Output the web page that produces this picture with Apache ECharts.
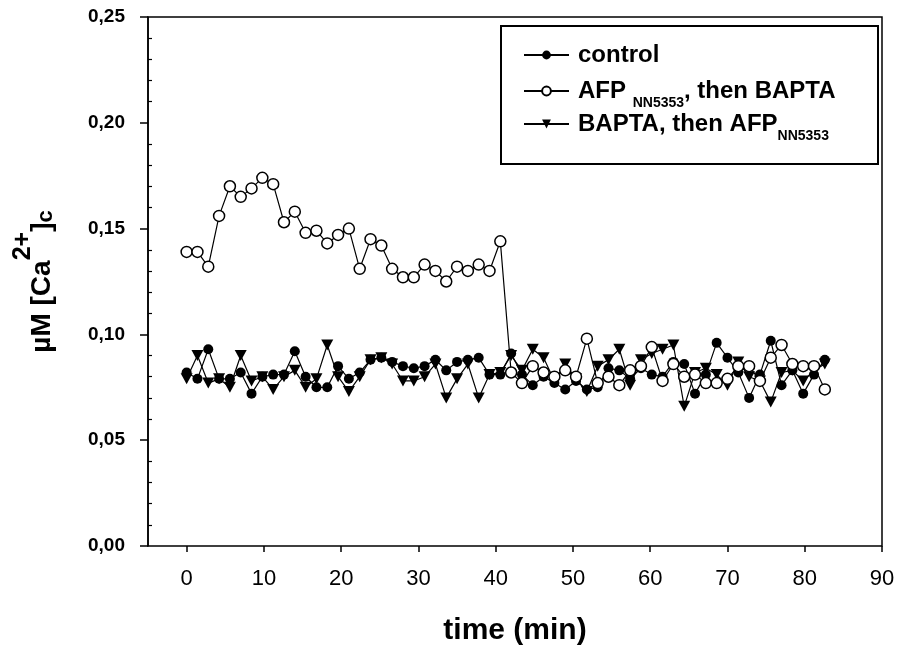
<!DOCTYPE html>
<html>
<head>
<meta charset="utf-8">
<script src="https://cdn.jsdelivr.net/npm/echarts@6/dist/echarts.min.js"></script>
<style>
html,body{margin:0;padding:0;background:#fff;}
#chart{width:907px;height:651px;}
</style>
</head>
<body>
<div id="chart"></div>
<script>
// ---- data ----
var times = [0, 1.4, 2.8, 4.2, 5.6, 7, 8.4, 9.8, 11.2, 12.6, 14, 15.4, 16.8, 18.2, 19.6, 21, 22.4, 23.8, 25.2, 26.6,
  28, 29.4, 30.8, 32.2, 33.6, 35, 36.4, 37.8, 39.2, 40.6, 42, 43.4, 44.8, 46.2, 47.6, 49, 50.4, 51.8, 53.2, 54.6,
  56, 57.4, 58.8, 60.2, 61.6, 63, 64.4, 65.8, 67.2, 68.6, 70, 71.4, 72.8, 74.2, 75.6, 77, 78.4, 79.8, 81.2, 82.6];

var control = [0.082, 0.079, 0.093, 0.079, 0.079, 0.082, 0.072, 0.080, 0.081, 0.081,
  0.092, 0.080, 0.075, 0.075, 0.085, 0.079, 0.082, 0.088, 0.089, 0.087,
  0.085, 0.084, 0.085, 0.088, 0.083, 0.087, 0.088, 0.089, 0.081, 0.081,
  0.091, 0.081, 0.076, 0.080, 0.077, 0.074, 0.078, 0.074, 0.075, 0.084,
  0.083, 0.079, 0.084, 0.081, 0.080, 0.087, 0.086, 0.072, 0.081, 0.096,
  0.089, 0.082, 0.070, 0.081, 0.097, 0.076, 0.083, 0.072, 0.081, 0.088];

var afpThenBapta = [0.139, 0.139, 0.132, 0.156, 0.170, 0.165, 0.169, 0.174, 0.171, 0.153,
  0.158, 0.148, 0.149, 0.143, 0.147, 0.150, 0.131, 0.145, 0.142, 0.131,
  0.127, 0.127, 0.133, 0.130, 0.125, 0.132, 0.130, 0.133, 0.130, 0.144,
  0.082, 0.077, 0.085, 0.082, 0.080, 0.083, 0.080, 0.098, 0.077, 0.080,
  0.076, 0.083, 0.085, 0.094, 0.078, 0.086, 0.080, 0.081, 0.077, 0.077,
  0.079, 0.085, 0.085, 0.078, 0.089, 0.095, 0.086, 0.085, 0.085, 0.074];

var baptaThenAfp = [0.079, 0.090, 0.077, 0.079, 0.075, 0.090, 0.078, 0.080, 0.074, 0.080,
  0.083, 0.075, 0.079, 0.095, 0.080, 0.073, 0.080, 0.088, 0.089, 0.086,
  0.078, 0.078, 0.080, 0.086, 0.070, 0.079, 0.086, 0.070, 0.081, 0.082,
  0.090, 0.083, 0.093, 0.089, 0.078, 0.086, 0.079, 0.073, 0.085, 0.088,
  0.093, 0.076, 0.088, 0.091, 0.093, 0.095, 0.066, 0.082, 0.084, 0.081,
  0.076, 0.087, 0.080, 0.078, 0.068, 0.082, 0.083, 0.078, 0.083, 0.086];

var xTicks = [0, 10, 20, 30, 40, 50, 60, 70, 80, 90];
var yTicks = [0, 0.05, 0.10, 0.15, 0.20, 0.25];
var seriesNames = ['control', 'AFP NN5353, then BAPTA', 'BAPTA, then AFP NN5353'];

// ---- chart ----
function pairs(xs, ys) { return ys.map(function (v, i) { return [xs[i], v]; }); }

var FONT = "'Liberation Sans', Arial, sans-serif";

var legendRich = {
  a: { fontSize: 24, fontWeight: 'bold', fontFamily: FONT, color: '#000' },
  s: { fontSize: 14, fontWeight: 'bold', fontFamily: FONT, color: '#000', padding: [24, 0, 0, 0] }
};
var legendText = {};
legendText[seriesNames[0]] = '{a|control}';
legendText[seriesNames[1]] = '{a|AFP }{s|NN5353}{a|, then BAPTA}';
legendText[seriesNames[2]] = '{a|BAPTA, then AFP}{s|NN5353}';

function legendFor(idx, top) {
  return {
    orient: 'vertical', left: 523, top: top, padding: 0,
    itemWidth: 45, itemHeight: 11,
    data: [seriesNames[idx]],
    formatter: function (n) { return legendText[n]; },
    textStyle: { rich: legendRich, padding: [0, 0, 0, 4] }
  };
}

var chart = echarts.init(document.getElementById('chart'), null, { renderer: 'canvas' });
var option = {
  animation: false,
  backgroundColor: '#fff',
  grid: { left: 148, right: 25, top: 17, bottom: 104, show: true, borderColor: '#000', borderWidth: 1.5, backgroundColor: 'transparent' },
  graphic: [{
    type: 'rect', left: 500, top: 25, z: 0,
    shape: { width: 377, height: 138 },
    style: { fill: '#fff', stroke: '#000', lineWidth: 2 }
  }],
  legend: [legendFor(0, 43), legendFor(1, 79), legendFor(2, 112)],
  xAxis: {
    type: 'value', min: -5, max: 90, offset: 2,
    axisLine: { show: false },
    axisTick: { show: true, length: 6, customValues: xTicks, lineStyle: { color: '#000', width: 1.5 } },
    axisLabel: { customValues: xTicks, margin: 20, fontSize: 22, fontFamily: FONT, color: '#000' },
    splitLine: { show: false },
    name: 'time (min)', nameLocation: 'middle', nameGap: 68,
    nameTextStyle: { fontSize: 30, fontWeight: 'bold', fontFamily: FONT, color: '#000' }
  },
  yAxis: [{
    type: 'value', min: 0, max: 0.25, interval: 0.05, position: 'left',
    axisLine: { show: true, onZero: false, lineStyle: { color: '#000', width: 1.5 } },
    axisTick: { show: true, length: 8, lineStyle: { color: '#000', width: 1.5 } },
    axisLabel: {
      margin: 23, fontSize: 19, fontWeight: 'bold', fontFamily: FONT, color: '#000',
      formatter: function (v) { return v.toFixed(2).replace('.', ','); }
    },
    splitLine: { show: false },
    name: '{m|µM [Ca}{sup|2+}{m|]}{sub|c}',
    nameLocation: 'middle', nameGap: 96, nameRotate: 90,
    nameTextStyle: {
      rich: {
        m: { fontSize: 28, fontWeight: 'bold', fontFamily: FONT, color: '#000', lineHeight: 28, padding: [8, 0, 0, 0] },
        sup: { fontSize: 25, fontWeight: 'bold', fontFamily: FONT, color: '#000', lineHeight: 25, padding: [0, 0, 30, 0] },
        sub: { fontSize: 22, fontWeight: 'bold', fontFamily: FONT, color: '#000', lineHeight: 22, padding: [16, 0, 0, 0] }
      }
    }
  }, {
    type: 'value', min: 0, max: 0.25, interval: 0.05, position: 'left', offset: 0,
    axisLine: { show: false, onZero: false },
    axisTick: { show: false, inside: true },
    minorTick: { show: true, splitNumber: 5, length: 4, lineStyle: { color: '#000', width: 1.2 } },
    axisLabel: { show: false },
    splitLine: { show: false }
  }],
  series: [{
    name: seriesNames[0], type: 'line', data: pairs(times, control), z: 2,
    symbol: 'circle', symbolSize: 10, showAllSymbol: true,
    itemStyle: { color: '#000' }, lineStyle: { color: '#000', width: 1.2 }
  }, {
    name: seriesNames[1], type: 'line', data: pairs(times, afpThenBapta), z: 4,
    symbol: 'circle', symbolSize: 11, showAllSymbol: true,
    itemStyle: { color: '#fff', borderColor: '#000', borderWidth: 1.5 }, lineStyle: { color: '#000', width: 1.2 }
  }, {
    name: seriesNames[2], type: 'line', data: pairs(times, baptaThenAfp), z: 3,
    symbol: 'path://M0,0L10,0L5,9Z', symbolSize: [12, 11], showAllSymbol: true,
    itemStyle: { color: '#000' }, lineStyle: { color: '#000', width: 1.2 }
  }]
};
chart.setOption(option);
</script>
</body>
</html>
